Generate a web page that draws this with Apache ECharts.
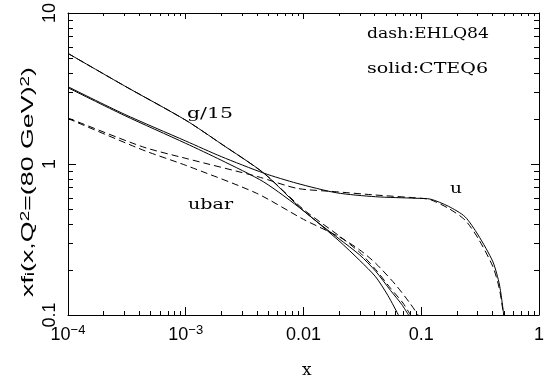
<!DOCTYPE html>
<html>
<head>
<meta charset="utf-8">
<script src="https://cdn.jsdelivr.net/npm/echarts@6/dist/echarts.min.js"></script>
<style>
  html, body { margin: 0; padding: 0; background: #fff; }
  #chart { width: 547px; height: 381px; }
</style>
</head>
<body>
<div id="chart"></div>
<script>
'use strict';

// x f(x) at Q^2 = (80 GeV)^2 as [x, value]
// solid = CTEQ6, dash = EHLQ84
const gSolid = [[1e-4, 5.4], [3e-4, 3.3], [1e-3, 1.95], [2e-3, 1.36], [4.6e-3, 0.87], [0.01, 0.49],
  [0.02, 0.32], [0.03, 0.25], [0.041, 0.195], [0.055, 0.145], [0.068, 0.118], [0.078, 0.1]];
const gDash = [[1e-4, 5.4], [3e-4, 3.3], [1e-3, 1.95], [2e-3, 1.36], [4.6e-3, 0.87], [0.01, 0.5],
  [0.02, 0.335], [0.03, 0.26], [0.041, 0.2], [0.055, 0.15], [0.07, 0.12], [0.081, 0.1]];
const uSolid = [[1e-4, 3.25], [3e-4, 2.14], [1e-3, 1.42], [2e-3, 1.12], [4.6e-3, 0.87], [0.0088, 0.745],
  [0.019, 0.645], [0.041, 0.607], [0.09, 0.593], [0.12, 0.585], [0.17, 0.525], [0.235, 0.448],
  [0.304, 0.339], [0.406, 0.225], [0.462, 0.158], [0.502, 0.1]];
const uDash = [[1e-4, 2.02], [4.3e-4, 1.3], [1e-3, 1.09], [4.1e-3, 0.824], [0.0088, 0.69], [0.019, 0.655],
  [0.041, 0.623], [0.1, 0.593], [0.12, 0.58], [0.17, 0.509], [0.235, 0.426], [0.304, 0.322],
  [0.406, 0.209], [0.46, 0.15], [0.5, 0.1]];
const ubarSolid = [[1e-4, 3.2], [3e-4, 2.1], [1e-3, 1.37], [2e-3, 1.06], [4.6e-3, 0.76], [0.01, 0.49],
  [0.02, 0.31], [0.03, 0.23], [0.041, 0.179], [0.052, 0.135], [0.064, 0.1]];
const ubarDash = [[1e-4, 2.0], [4.3e-4, 1.24], [1e-3, 0.98], [4e-3, 0.64], [0.01, 0.43], [0.02, 0.33],
  [0.03, 0.27], [0.041, 0.22], [0.06, 0.16], [0.08, 0.12], [0.094, 0.1]];

// minor tick positions (2..9 in each decade)
const tickSteps = [2, 3, 4, 5, 6, 7, 8, 9];
const xDecades = [1e-4, 1e-3, 1e-2, 1e-1];
const yDecades = [0.1, 1];
const xMinor = xDecades.flatMap(d => tickSteps.map(s => +(d * s).toPrecision(3)));
const yMinor = yDecades.flatMap(d => tickSteps.map(s => +(d * s).toPrecision(3)));

const serif = 'DejaVu Serif';
const sans = 'Liberation Sans';

const chartEl = document.querySelector('#chart');
const chart = echarts.init(chartEl, null, { renderer: 'canvas' });

// stretch texts to the widths seen in the figure
const measureCtx = document.createElement('canvas').getContext('2d');
function textWidth(str, size, family) {
  measureCtx.font = size + 'px "' + family + '"';
  return measureCtx.measureText(str).width;
}
function label(str, x, y, size, width) {
  return {
    type: 'text', x: x, y: y, silent: true,
    scaleX: width / textWidth(str, size, serif),
    style: { text: str, fill: '#000', fontSize: size, fontFamily: serif, align: 'left', verticalAlign: 'middle' }
  };
}

const yTitleW = textWidth('xf(x,Q=(80 GeV))', 17, sans) + textWidth('i', 12, sans) + 2 * textWidth('2', 12, sans);

function crisp(v) { return Math.round(v) + 0.5; }

function xMinorTick(params, api) {
  const cs = params.coordSys;
  const px = crisp(api.coord([api.value(0), 1])[0]);
  const yb = cs.y + cs.height, yt = cs.y;
  return {
    type: 'group', children: [
      { type: 'line', shape: { x1: px, y1: yb, x2: px, y2: yb - 4 }, style: { stroke: '#000', lineWidth: 1 } },
      { type: 'line', shape: { x1: px, y1: yt, x2: px, y2: yt + 3 }, style: { stroke: '#000', lineWidth: 1 } }
    ]
  };
}

function yMinorTick(params, api) {
  const cs = params.coordSys;
  const py = crisp(api.coord([0.01, api.value(1)])[1]);
  const xl = cs.x, xr = cs.x + cs.width;
  return {
    type: 'group', children: [
      { type: 'line', shape: { x1: xl, y1: py, x2: xl + 5, y2: py }, style: { stroke: '#000', lineWidth: 1 } },
      { type: 'line', shape: { x1: xr, y1: py, x2: xr - 5, y2: py }, style: { stroke: '#000', lineWidth: 1 } }
    ]
  };
}

function curve(data, dashed) {
  return {
    type: 'line',
    data: data,
    showSymbol: false,
    smooth: 0.25,
    silent: true,
    lineStyle: { color: '#000', width: 1, type: dashed ? [7, 4] : 'solid' }
  };
}

const axisLine = { show: true, lineStyle: { color: '#000', width: 1 } };

const option = {
  animation: false,
  backgroundColor: '#fff',
  grid: { left: 68, right: 2, top: 13, bottom: 66, containLabel: false },
  xAxis: [
    {
      type: 'log', logBase: 10, min: 1e-4, max: 1, position: 'bottom',
      axisLine: axisLine,
      axisTick: { inside: true, length: 8, lineStyle: { color: '#000' } },
      splitLine: { show: false },
      axisLabel: {
        margin: 9, color: '#000', showMinLabel: true, showMaxLabel: true,
        formatter: function (v) {
          const e = Math.round(Math.log10(v));
          if (e <= -3) return '{b|10}{s|\u2212' + (-e) + '}';
          return '{p|' + (+v.toPrecision(1)) + '}';
        },
        rich: {
          b: { fontSize: 18, lineHeight: 18, fontFamily: sans, padding: [5, 0, 0, 0], color: '#000' },
          s: { fontSize: 13, lineHeight: 11, fontFamily: sans, verticalAlign: 'top', color: '#000' },
          p: { fontSize: 18, lineHeight: 18, fontFamily: sans, padding: [5, 0, 0, 0], color: '#000' }
        }
      }
    },
    {
      type: 'log', logBase: 10, min: 1e-4, max: 1, position: 'top',
      axisLine: axisLine,
      axisTick: { inside: true, length: 6, lineStyle: { color: '#000' } },
      axisLabel: { show: false },
      splitLine: { show: false }
    }
  ],
  yAxis: [
    {
      type: 'log', logBase: 10, min: 0.1, max: 10, position: 'left',
      axisLine: axisLine,
      axisTick: { inside: true, length: 8, lineStyle: { color: '#000' } },
      splitLine: { show: false },
      axisLabel: { rotate: 90, margin: 9, color: '#000', fontSize: 18, fontFamily: sans }
    },
    {
      type: 'log', logBase: 10, min: 0.1, max: 10, position: 'right',
      axisLine: axisLine,
      axisTick: { inside: true, length: 8, lineStyle: { color: '#000' } },
      axisLabel: { show: false },
      splitLine: { show: false }
    }
  ],
  series: [
    curve(gDash, true),
    curve(uDash, true),
    curve(ubarDash, true),
    curve(gSolid, false),
    curve(uSolid, false),
    curve(ubarSolid, false),
    {
      type: 'custom', renderItem: xMinorTick, silent: true, clip: false,
      data: xMinor.map(v => [v, 1])
    },
    {
      type: 'custom', renderItem: yMinorTick, silent: true, clip: false,
      data: yMinor.map(v => [0.01, v])
    }
  ],
  graphic: [
    label('dash:EHLQ84', 367, 34, 14, 122),
    label('solid:CTEQ6', 367, 69, 14, 121),
    label('g/15', 187, 114, 15, 46),
    label('ubar', 188, 205, 15, 45),
    label('u', 450, 189, 15, 12),
    {
      type: 'text', x: 302, y: 371, silent: true,
      style: { text: 'x', fill: '#000', fontSize: 17, fontFamily: serif, align: 'left', verticalAlign: 'middle' }
    },
    {
      type: 'text', x: 28, y: 182, rotation: Math.PI / 2, silent: true,
      scaleX: 230 / yTitleW,
      style: {
        text: '{m|xf}{sub|i}{m|(x,Q}{sup|2}{m|=(80 GeV)}{sup|2}{m|)}',
        align: 'center', verticalAlign: 'middle', fill: '#000',
        rich: {
          m: { fontSize: 17, lineHeight: 17, fontFamily: sans, padding: [4, 0, 4, 0], fill: '#000' },
          sub: { fontSize: 12, lineHeight: 12, fontFamily: sans, verticalAlign: 'bottom', fill: '#000' },
          sup: { fontSize: 12, lineHeight: 12, fontFamily: sans, verticalAlign: 'top', fill: '#000' }
        }
      }
    }
  ]
};

chart.setOption(option);
window.addEventListener('resize', chart.resize);
</script>
</body>
</html>
